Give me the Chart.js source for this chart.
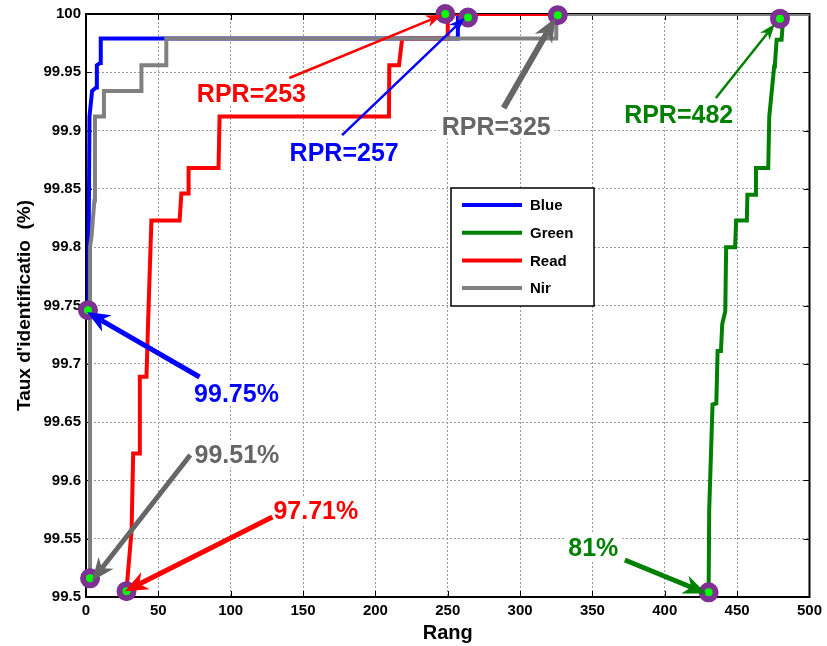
<!DOCTYPE html>
<html>
<head>
<meta charset="utf-8">
<script src="https://cdn.jsdelivr.net/npm/chart.js@4"></script>
<style>
  html, body { margin: 0; padding: 0; background: #fff; }
  #wrap { width: 827px; height: 646px; }
</style>
</head>
<body>
<div id="wrap"><canvas id="chart" width="827" height="646"></canvas></div>
<script>
// Rang (x) vs taux d'identification (y) for each band
const blueX  = [1.4, 1.8, 2.4, 4.2, 7.0, 7.5, 9.8, 10.2, 257, 257, 500];
const blueY  = [99.745, 99.80, 99.912, 99.934, 99.937, 99.956, 99.958, 99.979, 99.979, 100, 100];

const greenX = [430.3, 430.7, 433.0, 435.6, 436.5, 438.8, 439.7, 441.8, 442.4, 448.6, 449.3, 456.7,
                457.1, 462.4, 463.0, 471.5, 472.2, 475.6, 476.1, 477.3, 480.7, 482, 500];
const greenY = [99.504, 99.575, 99.665, 99.666, 99.711, 99.711, 99.734, 99.745, 99.80, 99.80, 99.823, 99.823,
                99.845, 99.845, 99.868, 99.868, 99.912, 99.955, 99.957, 99.978, 99.978, 100, 100];

const redX   = [28.0, 31.5, 32.6, 37.2, 37.2, 41.8, 42.9, 45.2, 64.7, 65.9, 70.5, 70.9, 91.6, 92.3,
                209.4, 209.6, 216.3, 218.5, 250, 250, 500];
const redY   = [99.506, 99.557, 99.623, 99.623, 99.689, 99.689, 99.735, 99.823, 99.823, 99.846, 99.846, 99.868, 99.868, 99.912,
                99.912, 99.956, 99.956, 99.979, 99.979, 100, 100];

const nirX   = [2.8, 2.8, 3.9, 5.8, 6.2, 12.4, 12.4, 38.3, 38.3, 55.5, 55.5, 325, 325, 500];
const nirY   = [99.516, 99.80, 99.81, 99.84, 99.912, 99.912, 99.934, 99.934, 99.956, 99.956, 99.979, 99.979, 100, 100];

// highlighted points (first rank / RPR)
const markX  = [1.4, 2.8, 28.0, 430.3, 248.3, 264.0, 326.0, 479.6];
const markY  = [99.746, 99.516, 99.505, 99.504, 100.0, 99.997, 99.999, 99.996];

const bandNames  = ['Blue', 'Green', 'Read', 'Nir'];
const bandColors = ['#0000ff', '#008000', '#ff0000', '#808080'];

// annotations: text, colour, label centre, arrow tail and tip (data coords), arrow width
const notes = [
    { text: 'RPR=253', color: '#ff0000', at: [114.3, 99.9322], from: [140.5, 99.9451], to: [245.9, 99.9991], w: 2.5 },
    { text: 'RPR=257', color: '#0000ff', at: [178.4, 99.8816], from: [177.0, 99.8962], to: [261.7, 99.9966], w: 2.5 },
    { text: 'RPR=325', color: '#666666', at: [283.5, 99.9040], from: [288.6, 99.9194], to: [324.4, 99.9966], w: 6 },
    { text: 'RPR=482', color: '#008000', at: [409.6, 99.9142], from: [435.3, 99.9280], to: [476.0, 99.9914], w: 2.5 },
    { text: '99.75%',  color: '#0000ff', at: [104.0, 99.6750], from: [78.5, 99.6887], to: [0.7, 99.7444], w: 5 },
    { text: '99.51%',  color: '#666666', at: [104.3, 99.6226], from: [72.1, 99.6218], to: [4.1, 99.5137], w: 5 },
    { text: '97.71%',  color: '#ff0000', at: [158.8, 99.5742], from: [128.8, 99.5686], to: [26.9, 99.5050], w: 5 },
    { text: '81%',     color: '#008000', at: [350.6, 99.5429], from: [372.4, 99.5317], to: [428.6, 99.5031], w: 5 }
];

Chart.defaults.font.family = '"Liberation Sans", Arial, Helvetica, sans-serif';
Chart.defaults.color = '#000';

function drawArrow(ctx, x1, y1, x2, y2, w, color) {
    const len = Math.hypot(x2 - x1, y2 - y1);
    const ux = (x2 - x1) / len, uy = (y2 - y1) / len;
    const hl = w < 3 ? 16 : 18 + w;
    const hw = w < 3 ? 6 : 7 + w / 2;
    const bx = x2 - ux * hl, by = y2 - uy * hl;
    const nx = x2 - ux * hl * 0.7, ny = y2 - uy * hl * 0.7;
    ctx.strokeStyle = color;
    ctx.fillStyle = color;
    ctx.lineWidth = w;
    ctx.lineCap = 'butt';
    ctx.beginPath();
    ctx.moveTo(x1, y1);
    ctx.lineTo(nx, ny);
    ctx.stroke();
    ctx.beginPath();
    ctx.moveTo(x2, y2);
    ctx.lineTo(bx - uy * hw, by + ux * hw);
    ctx.lineTo(nx, ny);
    ctx.lineTo(bx + uy * hw, by - ux * hw);
    ctx.closePath();
    ctx.fill();
}

const frame = {
    id: 'frame',
    beforeDatasetsDraw(chart) {
        const {ctx, chartArea: a, scales: {x, y}} = chart;
        ctx.save();
        ctx.strokeStyle = '#000';
        ctx.lineWidth = 1;
        ctx.beginPath();
        x.ticks.forEach(t => {
            const px = Math.round(x.getPixelForValue(t.value)) + 0.5;
            ctx.moveTo(px, a.bottom); ctx.lineTo(px, a.bottom - 6);
            ctx.moveTo(px, a.top); ctx.lineTo(px, a.top + 6);
        });
        y.ticks.forEach(t => {
            const py = Math.round(y.getPixelForValue(t.value)) + 0.5;
            ctx.moveTo(a.left, py); ctx.lineTo(a.left + 6, py);
            ctx.moveTo(a.right, py); ctx.lineTo(a.right - 6, py);
        });
        ctx.stroke();
        ctx.lineWidth = 2;
        ctx.strokeRect(a.left, a.top, a.right - a.left, a.bottom - a.top);
        ctx.restore();
    },
    afterDatasetsDraw(chart) {
        const {ctx, chartArea: a, scales: {x, y}} = chart;
        ctx.save();

        // text labels with white background
        ctx.font = 'bold 25px "Liberation Sans", Arial, sans-serif';
        ctx.textAlign = 'center';
        ctx.textBaseline = 'alphabetic';
        notes.forEach(n => {
            const cx = x.getPixelForValue(n.at[0]);
            const cy = y.getPixelForValue(n.at[1]);
            const tw = ctx.measureText(n.text).width;
            ctx.fillStyle = '#fff';
            ctx.fillRect(cx - tw / 2 - 4, cy - 13, tw + 8, 26);
            ctx.fillStyle = n.color;
            ctx.fillText(n.text, cx, cy + 9);
        });

        notes.forEach(n => {
            drawArrow(ctx,
                x.getPixelForValue(n.from[0]), y.getPixelForValue(n.from[1]),
                x.getPixelForValue(n.to[0]), y.getPixelForValue(n.to[1]),
                n.w, n.color);
        });

        // legend box, MATLAB style inside the axes
        const lx = a.left + 365, ly = a.top + 174, lw = 143, lh = 118;
        ctx.fillStyle = '#fff';
        ctx.fillRect(lx, ly, lw, lh);
        ctx.strokeStyle = '#000';
        ctx.lineWidth = 1.5;
        ctx.strokeRect(lx, ly, lw, lh);
        ctx.font = 'bold 15px "Liberation Sans", Arial, sans-serif';
        ctx.textAlign = 'left';
        ctx.textBaseline = 'middle';
        bandNames.forEach((name, i) => {
            const ry = ly + 17 + i * 27.7;
            ctx.strokeStyle = bandColors[i];
            ctx.lineWidth = 4;
            ctx.beginPath();
            ctx.moveTo(lx + 11, ry);
            ctx.lineTo(lx + 71, ry);
            ctx.stroke();
            ctx.fillStyle = '#000';
            ctx.fillText(name, lx + 79, ry + 1);
        });
        ctx.restore();
    }
};

const curves = [[blueX, blueY], [greenX, greenY], [redX, redY], [nirX, nirY]];
const drawOrder = [3, 2, 1, 0];

const datasets = curves.map(([xs, ys], i) => ({
    label: bandNames[i],
    data: xs.map((v, k) => ({ x: v, y: ys[k] })),
    showLine: true,
    borderColor: bandColors[i],
    backgroundColor: bandColors[i],
    borderWidth: 4,
    pointRadius: 0,
    order: drawOrder[i]
}));

datasets.push({
    label: 'marks',
    data: markX.map((v, k) => ({ x: v, y: markY[k] })),
    showLine: false,
    pointRadius: 7,
    pointBorderWidth: 6,
    pointBackgroundColor: '#00ff00',
    pointBorderColor: '#7d3193',
    clip: false,
    order: -1
});

new Chart(document.getElementById('chart'), {
    type: 'scatter',
    data: { datasets: datasets },
    plugins: [frame],
    options: {
        responsive: false,
        animation: false,
        layout: { padding: { top: 14, right: 15, left: 0, bottom: 0 } },
        plugins: {
            legend: { display: false },
            tooltip: { enabled: false }
        },
        scales: {
            x: {
                type: 'linear',
                min: 0,
                max: 500,
                ticks: {
                    stepSize: 50,
                    autoSkip: false,
                    maxRotation: 0,
                    padding: 5,
                    color: '#000',
                    font: { size: 15, weight: 'bold' }
                },
                grid: { color: '#9a9a9a', lineWidth: 1, drawTicks: false },
                border: { display: false, dash: [2, 2] },
                title: {
                    display: true,
                    text: 'Rang',
                    color: '#000',
                    font: { size: 20, weight: 'bold' },
                    padding: { top: 0, bottom: 1 }
                },
                afterFit(scale) { scale.height = 49; }
            },
            y: {
                type: 'linear',
                min: 99.5,
                max: 100,
                ticks: {
                    stepSize: 0.05,
                    autoSkip: false,
                    padding: 5,
                    color: '#000',
                    font: { size: 15, weight: 'bold' },
                    callback: v => String(+v.toFixed(2))
                },
                grid: { color: '#9a9a9a', lineWidth: 1, drawTicks: false },
                border: { display: false, dash: [2, 2] },
                title: {
                    display: true,
                    text: "Taux d'identificatio  (%)",
                    color: '#000',
                    font: { size: 19, weight: 'bold' },
                    padding: { top: 13, bottom: 0 }
                },
                afterFit(scale) { scale.width = 86; }
            }
        }
    }
});
</script>
</body>
</html>
